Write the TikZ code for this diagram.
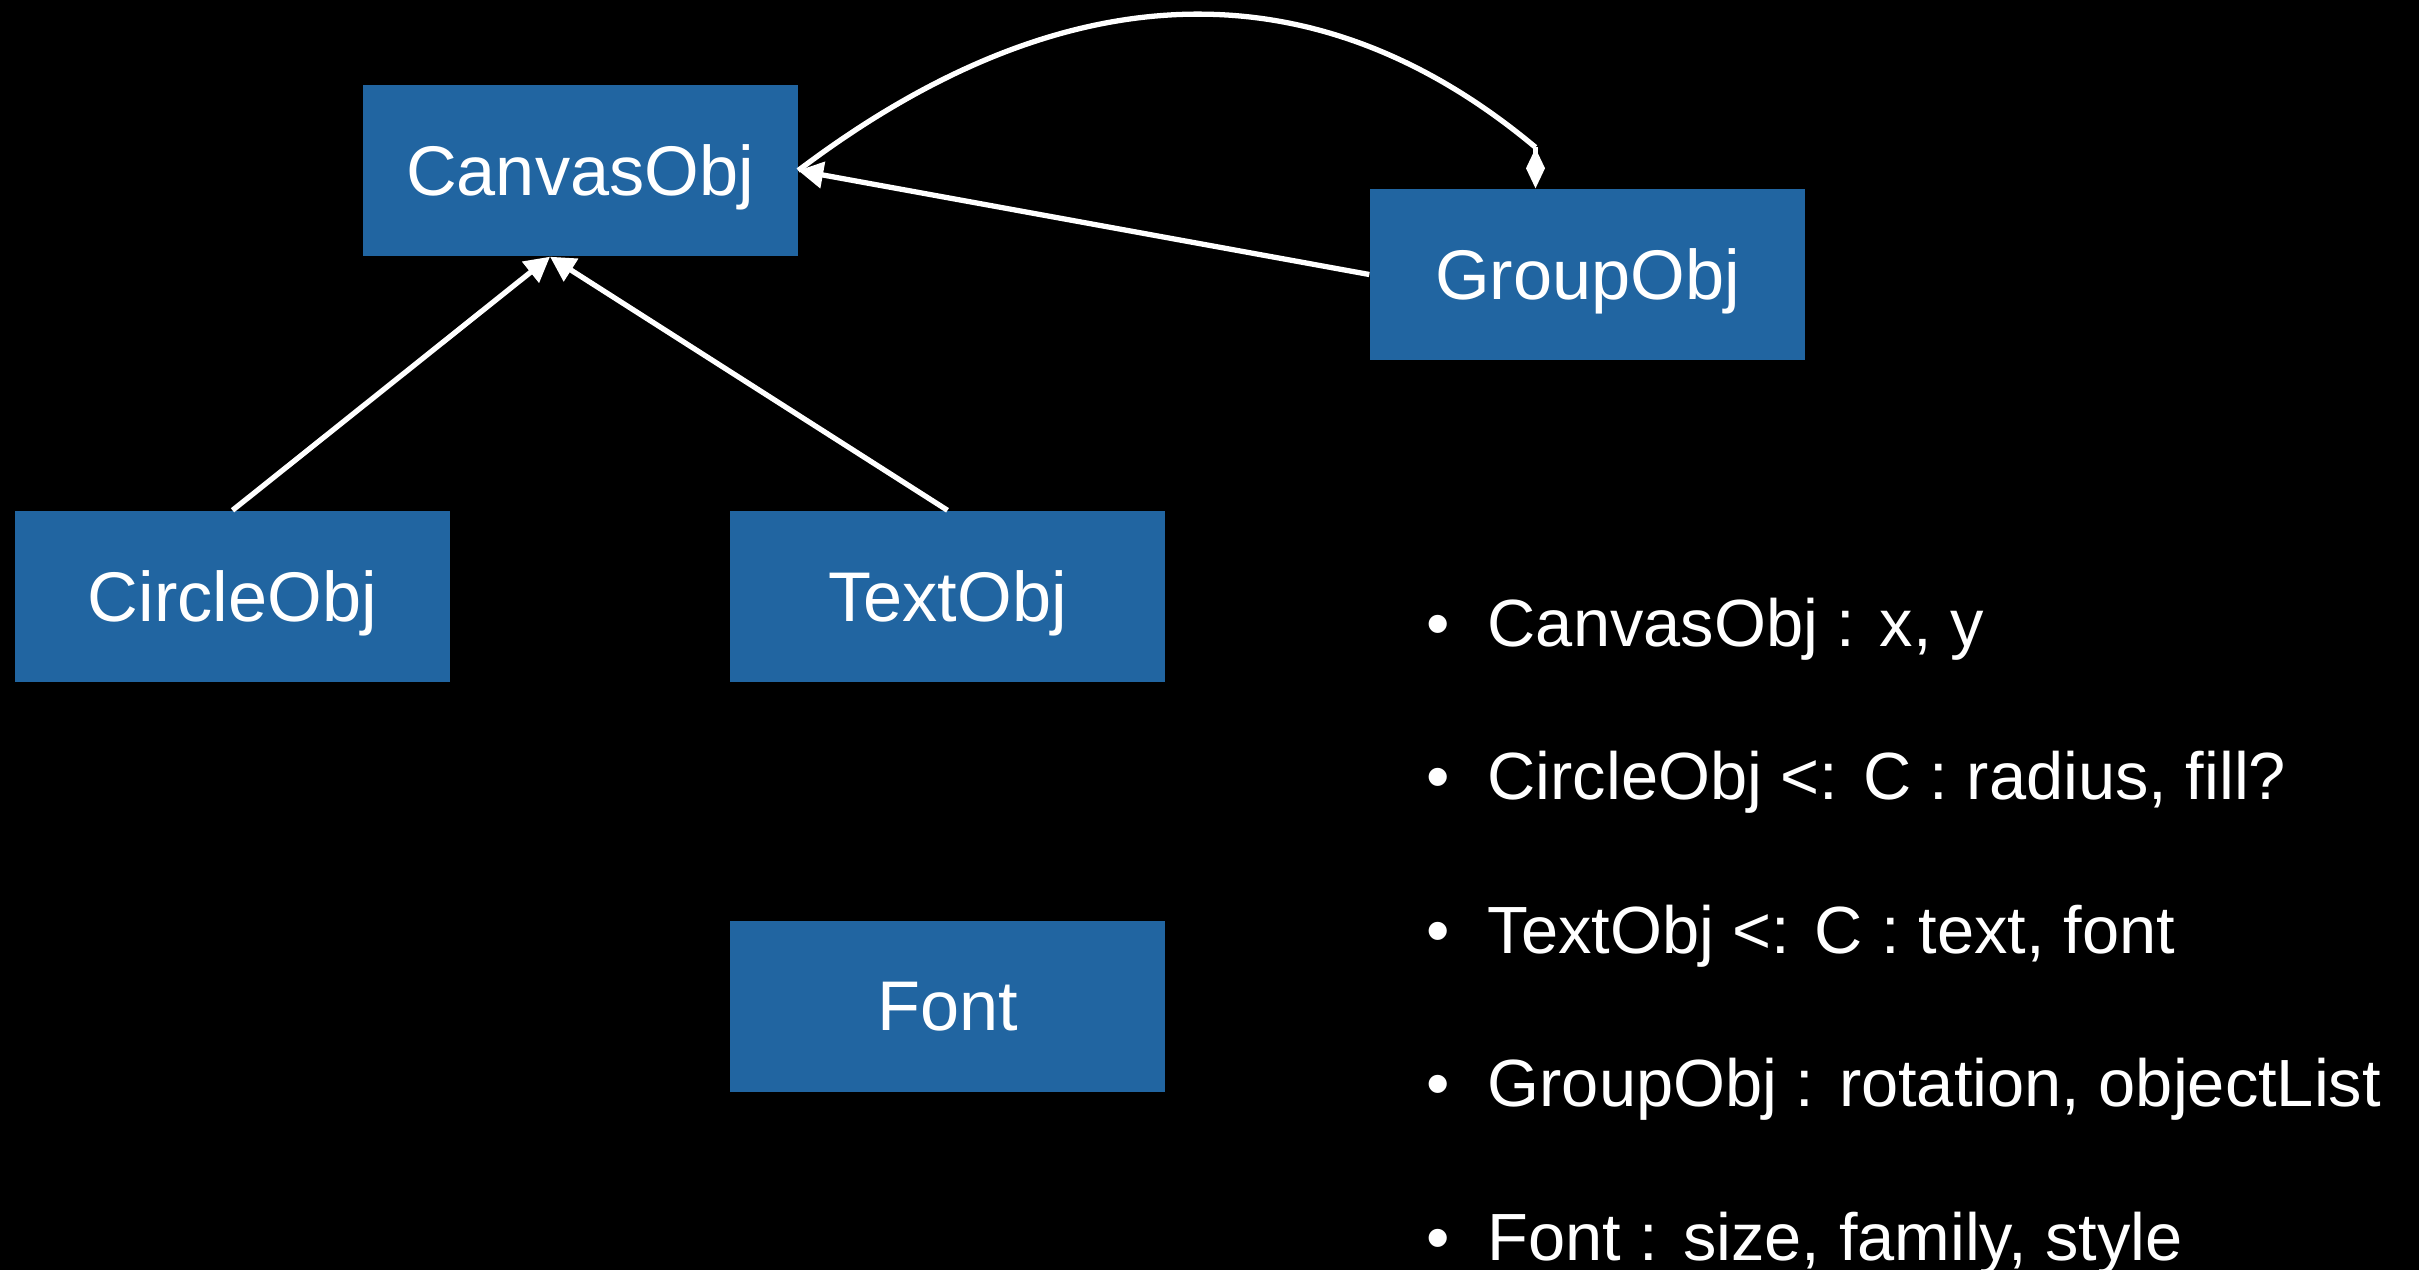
\documentclass[tikz,border=0pt]{standalone}
\usepackage{fontspec}
\setmainfont{Liberation Sans}
\usepackage{xcolor}
\usepackage{tikz}
\usetikzlibrary{arrows.meta, positioning, calc}
\definecolor{classblue}{RGB}{33, 101, 161}
\definecolor{slidebg}{RGB}{0, 0, 0}

\begin{document}
\begin{tikzpicture}[
    cls/.style={rectangle, fill=classblue, text=white, inner sep=0pt,
                minimum width=4.35cm, minimum height=1.71cm, text depth=0pt,
                font=\fontsize{20}{24}\selectfont},
    inh/.style={-{Triangle[length=2.5mm, width=2.6mm]}, white, line width=1.5pt},
    link/.style={white, line width=1.5pt},
    agg/.style={-{Diamond[length=4mm, width=1.9mm]}, white, line width=1.5pt},
    item/.style={text=white, anchor=base west, inner sep=0pt,
                 font=\fontsize{19}{23}\selectfont}
  ]

  % Background
  \fill[slidebg] (0,0) rectangle (24.19,-12.70);
  \useasboundingbox (0,0) rectangle (24.19,-12.70);

  % Classes
  \node[cls] (CanvasObj) at (5.80,-1.705)  {CanvasObj};
  \node[cls] (GroupObj)  at (15.875,-2.745) {GroupObj};
  \node[cls] (CircleObj) at (2.325,-5.965) {CircleObj};
  \node[cls] (TextObj)   at (9.475,-5.965) {TextObj};
  \node[cls] (Font)      at (9.475,-10.065) {Font};

  % Helper points
  \coordinate (canvasBase) at ($(CanvasObj.south)+(-0.30,0)$);
  \coordinate (groupKnob)  at ($(GroupObj.north)+(-0.52,0.41)$);

  % Edges: subclasses -> CanvasObj
  \draw[inh] (CircleObj.north) -- (canvasBase);
  \draw[inh] (TextObj.north) -- (canvasBase);
  \draw[inh] (GroupObj.west) -- (CanvasObj.east);

  % Edge: GroupObj holds CanvasObj
  \draw[link] (CanvasObj.east) .. controls (10.70,0.35) and (13.20,0.33) .. (groupKnob);
  \draw[agg] (groupKnob) -- (groupKnob |- GroupObj.north);

  % Fields
  \foreach \txt [count=\i] in {{CanvasObj : x, y},
                               {CircleObj <: C : radius, fill?},
                               {TextObj <: C : text, font},
                               {GroupObj : rotation, objectList},
                               {Font : size, family, style}}
    \node[item] (field\i) at (14.26,{-6.46-1.535*(\i-1)})
      {\textbullet\hspace{10.7pt}\txt};

\end{tikzpicture}
\end{document}
